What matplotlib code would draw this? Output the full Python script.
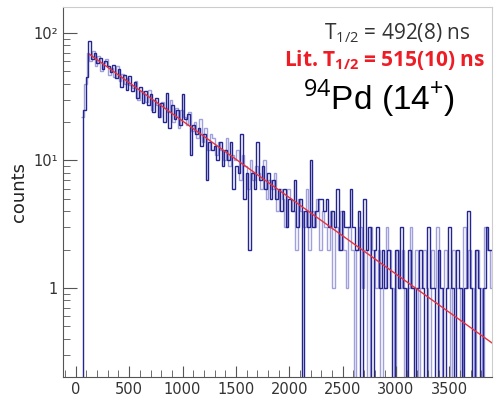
"""
Decay curve of 94Pd (14+) isomer, log scale histogram with fit
"""

import matplotlib
matplotlib.use("Agg")
import matplotlib.pyplot as plt
import numpy as np
from matplotlib.ticker import FixedLocator, MultipleLocator, NullFormatter

plt.rcParams["mathtext.fontset"] = "custom"
plt.rcParams["mathtext.rm"] = "Open Sans"
plt.rcParams["mathtext.bf"] = "Open Sans:bold"

# histogram settings (ns)
bin_width = 25
dark_start = 41
light_start = 53

# counts per bin
dark_counts = [
    0, 25, 45, 86, 62, 70, 58, 64, 52, 60, 55, 49, 56, 44, 52, 38, 47, 36, 46, 35,
    41, 31, 38, 28, 35, 27, 33, 24, 31, 22, 28, 20, 34, 18, 27, 21, 25, 19, 33, 21,
    23, 11, 19, 16, 18, 13, 16, 7, 14, 12, 13, 10, 14, 9, 12, 10, 14, 6, 9, 8,
    16, 5, 8, 2, 8, 6, 14, 7, 9, 6, 8, 5, 7, 5, 6, 4, 6, 3, 5, 4,
    7, 3, 5, 0, 4, 3, 10, 3, 4, 5, 5, 4, 5, 3, 4, 3, 6, 2, 4, 3,
    3, 6, 3, 2, 4, 0, 5, 2, 3, 0, 2, 3, 1, 2, 1, 2, 1, 0, 2, 1,
    3, 1, 0, 2, 1, 0, 1, 2, 1, 0, 3, 1, 1, 0, 2, 1, 0, 1, 3, 1,
    0, 2, 1, 0, 1, 4, 1, 0, 2, 1, 0, 1, 3, 2, 2,
]
light_counts = [
    22, 40, 70, 60, 72, 55, 66, 50, 58, 62, 47, 53, 45, 55, 42, 48, 40, 44, 39, 37,
    42, 30, 35, 33, 29, 36, 25, 30, 27, 22, 29, 26, 24, 30, 20, 26, 18, 25, 22, 19,
    24, 17, 20, 15, 21, 14, 18, 12, 16, 15, 11, 14, 12, 10, 15, 9, 11, 10, 12, 7,
    11, 9, 6, 10, 7, 9, 8, 6, 10, 5, 7, 6, 8, 4, 6, 5, 3, 6, 5, 4,
    2, 5, 4, 3, 6, 2, 4, 3, 5, 2, 4, 3, 2, 4, 1, 3, 2, 4, 2, 1,
    3, 2, 0, 2, 3, 1, 2, 0, 3, 2, 1, 2, 0, 1, 3, 2, 1, 0, 2, 1,
    2, 0, 1, 3, 1, 2, 0, 1, 2, 1, 0, 2, 1, 3, 0, 1, 2, 1, 0, 2,
    1, 1, 0, 3, 1, 2, 1, 0, 2, 1, 0, 3, 2, 1, 2,
]

# exponential fit, straight on log scale: end points
fit_t = [130, 3900]
fit_counts = [68, 0.37]

y_ticks = [1, 10, 100]
y_tick_labels = ["1", "10\u00b9", "10\u00b2"]
x_ticks = [0, 500, 1000, 1500, 2000, 2500, 3000, 3500]


def step_hist(ax, start, counts, **kw):
    """
    draws counts as a step histogram, empty bins fall below the axis
    """
    counts = np.asarray(counts, dtype=float)
    edges = start + bin_width * np.arange(len(counts) + 1)
    vals = np.where(counts > 0, counts, 1e-2)
    ax.stairs(vals, edges, baseline=None, **kw)


fig = plt.figure(figsize=(4.94, 3.99), dpi=100)
ax = fig.add_axes([63 / 494, 22 / 399, 429 / 494, 370 / 399])

step_hist(ax, light_start, light_counts, color="#a0a0dc", linewidth=1.0)
step_hist(ax, dark_start, dark_counts, color="#25258f", linewidth=1.0)
ax.plot(fit_t, fit_counts, color="#e8323c", linewidth=1.0)

ax.set_yscale("log")
ax.set_xlim(-120, 3900)
ax.set_ylim(0.2, 160)

ax.yaxis.set_major_locator(FixedLocator(y_ticks))
ax.set_yticklabels(y_tick_labels)
ax.yaxis.set_minor_formatter(NullFormatter())
ax.xaxis.set_major_locator(FixedLocator(x_ticks))
ax.xaxis.set_minor_locator(MultipleLocator(100))

ax.tick_params(which="both", direction="in", colors="#555555",
               labelcolor="#333333", labelsize=10.5)
ax.tick_params(which="major", length=10)
ax.tick_params(which="minor", length=5)
ax.tick_params(axis="x", which="major", length=8)
ax.tick_params(axis="x", which="minor", length=5)

for side in ["left", "bottom"]:
    ax.spines[side].set_color("#555555")
for side in ["top", "right"]:
    ax.spines[side].set_color("#cccccc")

ax.set_ylabel("counts", fontsize=13, color="#222222", labelpad=4)

ax.text(0.95, 0.962, "T$_{1/2}$ = 492(8) ns", transform=ax.transAxes,
        ha="right", va="top", fontsize=15, color="#333333", family="Open Sans")
ax.text(0.985, 0.89, r"Lit. T$_{\mathbf{1/2}}$ = 515(10) ns",
        transform=ax.transAxes, ha="right", va="top", fontsize=15,
        color="#ee1c25", family="Open Sans", fontweight="bold")
ax.text(0.915, 0.81, "$^{94}$Pd (14$^{+}$)", transform=ax.transAxes,
        ha="right", va="top", fontsize=24, color="black",
        family="Liberation Sans")

fig.savefig("out.png", dpi=100)
